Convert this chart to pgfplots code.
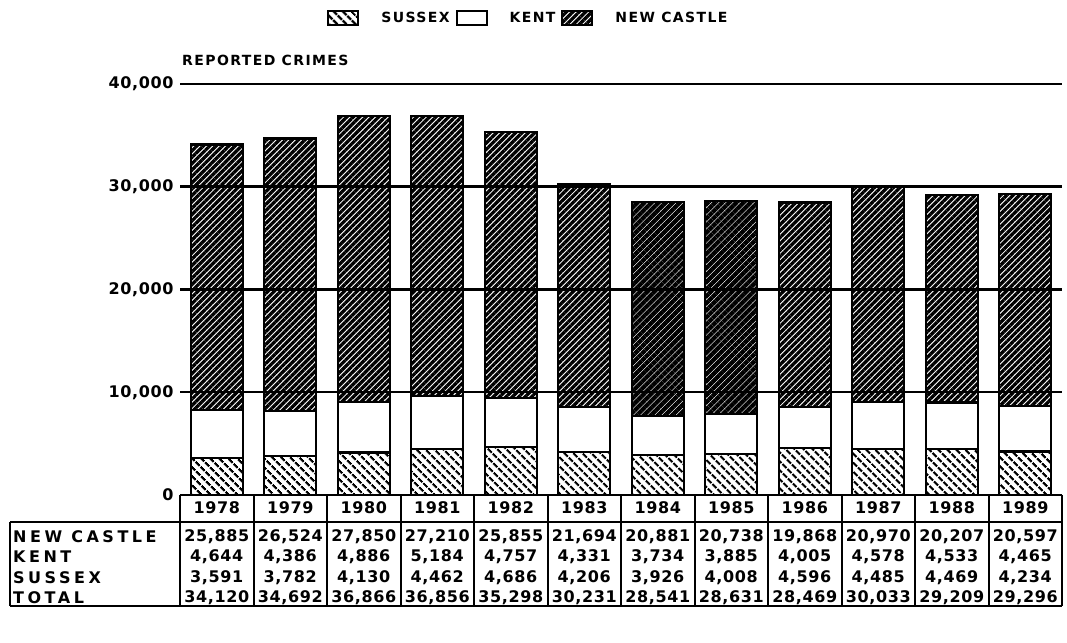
\documentclass[border=0pt]{standalone}
\usepackage{pgfplots}
\pgfplotsset{compat=1.18}
\usepackage{pgfplotstable}
\usetikzlibrary{patterns.meta}
\usepackage{fontspec}
\setmainfont{DejaVu Sans}
\newfontfamily\numfam{DejaVu Sans}[LetterSpace=4]
\newfontfamily\labfam{DejaVu Sans}[LetterSpace=22]
\newfontfamily\titfam{DejaVu Sans}[LetterSpace=10]
\newcommand\nf{\fontsize{16}{18}\selectfont\numfam\bfseries}
\newcommand\lf{\fontsize{16}{18}\selectfont\labfam\bfseries}
\newcommand\tf{\fontsize{14}{16}\selectfont\titfam\bfseries}

\pgfplotstableread{
x S K N1 N2
0 3591 4644 25885 0
1 3782 4386 26524 0
2 4130 4886 27850 0
3 4462 5184 27210 0
4 4686 4757 25855 0
5 4206 4331 21694 0
6 3926 3734 0 20881
7 4008 3885 0 20738
8 4596 4005 19868 0
9 4485 4578 20970 0
10 4469 4533 20207 0
11 4234 4465 20597 0
}\crimes

\begin{document}
\begin{tikzpicture}[x=1pt,y=1pt]
\useasboundingbox (0,0) rectangle (1067,642);
\begin{axis}[
  at={(180pt,147pt)}, anchor=south west,
  scale only axis, width=882pt, height=411pt,
  xmin=-0.5, xmax=11.5, ymin=0, ymax=40000,
  ybar stacked, bar width=52pt,
  axis x line=bottom, axis y line=left,
  axis line style={draw=none},
  xtick=\empty,
  ytick={0,10000,20000,30000,40000},
  yticklabels={0,{10,000},{20,000},{30,000},{40,000}},
  scaled y ticks=false,
  yticklabel style={font=\nf, xshift=-3pt},
  major tick length=0pt,
  ymajorgrids, grid style={black, line width=2.5pt},
  clip=false,
  legend style={at={(0.395,1.16)}, anchor=center, draw=none, fill=none,
    legend columns=-1, font=\tf,
    /tikz/every even column/.append style={column sep=4pt},
    /tikz/every odd column/.append style={column sep=20pt}},
  legend image code/.code={\draw[#1,line width=2pt] (0pt,-7pt) rectangle (30pt,7pt);},
]
\addplot[draw=black, line width=2.2pt, pattern={Lines[angle=-45,distance=6.5pt,line width=2.6pt]}] table[x=x,y=S] {\crimes};
\addlegendentry{SUSSEX}
\addplot[draw=black, line width=2.2pt, fill=white] table[x=x,y=K] {\crimes};
\addlegendentry{KENT}
\addplot[draw=black, line width=2.2pt, pattern={Lines[angle=45,distance=4.5pt,line width=3.3pt]}] table[x=x,y=N1] {\crimes};
\addlegendentry{NEW CASTLE}
\addplot[forget plot, draw=black, line width=2.2pt, pattern={Lines[angle=45,distance=5pt,line width=4.3pt]}] table[x=x,y=N2] {\crimes};
\end{axis}

% title
\node[anchor=west, inner sep=0pt] at (182,582) {\tf REPORTED CRIMES};

% table lines
\begin{scope}[line width=2pt]
\draw (180,147) -- (1062,147);
\draw (10,120) -- (1062,120);
\draw (10,36) -- (1062,36);
\draw (10,120) -- (10,36);
\foreach \k in {0,...,12} {
  \draw (180+73.5*\k,147) -- (180+73.5*\k,36);
}
\end{scope}

% year row
\foreach \y [count=\i from 0] in {1978,1979,1980,1981,1982,1983,1984,1985,1986,1987,1988,1989} {
  \node[inner sep=0pt] at (216.75+73.5*\i,134) {\nf \y};
}
% row labels
\node[anchor=west,inner sep=0pt] at (13,105) {\lf NEW CASTLE};
\node[anchor=west,inner sep=0pt] at (13,85) {\lf KENT};
\node[anchor=west,inner sep=0pt] at (13,64) {\lf SUSSEX};
\node[anchor=west,inner sep=0pt] at (13,44) {\lf TOTAL};

\foreach \v [count=\i from 0] in {{25,885},{26,524},{27,850},{27,210},{25,855},{21,694},{20,881},{20,738},{19,868},{20,970},{20,207},{20,597}} {
  \node[inner sep=0pt] at (216.75+73.5*\i,105) {\nf \v};
}
\foreach \v [count=\i from 0] in {{4,644},{4,386},{4,886},{5,184},{4,757},{4,331},{3,734},{3,885},{4,005},{4,578},{4,533},{4,465}} {
  \node[inner sep=0pt] at (216.75+73.5*\i,85) {\nf \v};
}
\foreach \v [count=\i from 0] in {{3,591},{3,782},{4,130},{4,462},{4,686},{4,206},{3,926},{4,008},{4,596},{4,485},{4,469},{4,234}} {
  \node[inner sep=0pt] at (216.75+73.5*\i,64) {\nf \v};
}
\foreach \v [count=\i from 0] in {{34,120},{34,692},{36,866},{36,856},{35,298},{30,231},{28,541},{28,631},{28,469},{30,033},{29,209},{29,296}} {
  \node[inner sep=0pt] at (216.75+73.5*\i,44) {\nf \v};
}
\end{tikzpicture}
\end{document}
